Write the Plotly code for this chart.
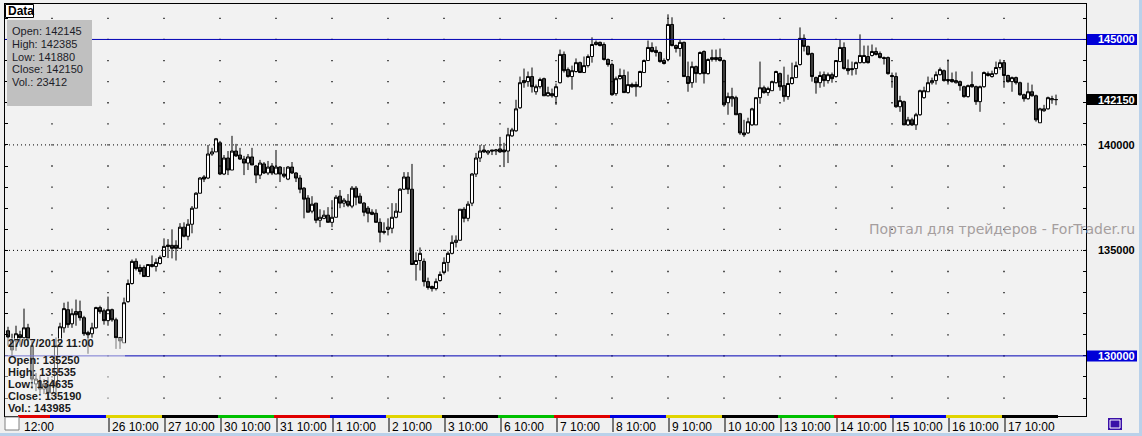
import plotly.graph_objects as go

# ---------------- data (hourly bars) ----------------
opens = [
    131190, 130710, 130710, 131000, 130860, 131330, 130480, 128670, 128810, 128430,
    128620, 128240, 128570, 130620, 131330, 132190, 131520, 132100, 132100, 131810,
    131100, 131050, 131330, 132290, 132140, 131670, 132190, 131710, 130860, 130620,
    132570, 133430, 134480, 134190, 134190, 133760, 134330, 134240, 134380, 134710,
    135250, 135240, 135240, 135100, 136100, 135670, 136240, 137000, 137710, 138480,
    138430, 139570, 139670, 140100, 138620, 139380, 138810, 139710, 139520, 139330,
    139140, 139430, 139000, 138570, 139100, 138670, 139000, 138620, 138950, 138620,
    138380, 138950, 138670, 138430, 137950, 137480, 136860, 137240, 136430, 136520,
    136670, 136330, 136570, 137570, 137240, 137330, 137100, 137950, 137570, 137240,
    137000, 136810, 136760, 136330, 135900, 136000, 136050, 136570, 136810, 137900,
    138480, 137900, 134330, 134520, 134480, 133520, 133290, 133190, 133570, 133950,
    134430, 134860, 135380, 135480, 136950, 136520, 137240, 138620, 139380, 139760,
    139620, 139760, 139710, 139810, 139760, 139710, 140430, 140670, 141760, 143050,
    143000, 143240, 142520, 142760, 143140, 142330, 142430, 142290, 142950, 144290,
    143570, 143240, 143480, 143900, 143430, 143760, 144190, 144760, 144860, 144760,
    144050, 143810, 142430, 143140, 143290, 142480, 142860, 142860, 142760, 143430,
    144000, 144620, 144480, 144380, 144000, 144050, 145710, 144710, 144570, 144860,
    143240, 142950, 143710, 143380, 144430, 143380, 144050, 144140, 144140, 144000,
    142000, 142190, 142240, 141480, 140570, 140570, 140950, 140950, 142240, 142710,
    142480, 142570, 142950, 143380, 142810, 142290, 142910, 143190, 143810, 145050,
    144670, 144330, 143190, 142950, 143330, 143050, 143330, 143240, 143950, 144620,
    143620, 143620, 143620, 143900, 143900, 144190, 144240, 144430, 144330, 144140,
    144140, 143290, 143240, 141810, 142050, 140950, 141190, 140950, 141430, 142240,
    142520, 142950, 143050, 143330, 143520, 143100, 143100, 142950, 143000, 142760,
    142290, 142860, 142760, 142050, 142760, 143290, 143240, 143380, 143670, 143900,
    143290, 143000, 143190, 142950, 142380, 142190, 142520, 142330, 141050, 141620,
    141710, 142140, 142145,
]
highs = [
    131380, 131050, 131430, 131190, 132240, 131520, 130710, 129190, 129050, 128900,
    129000, 128900, 130860, 131570, 132520, 132570, 132240, 132670, 132620, 131900,
    131190, 131570, 132330, 132380, 132240, 132810, 132240, 131810, 130900, 132760,
    133620, 134570, 134620, 134330, 134290, 134330, 134760, 134620, 134760, 135570,
    135535, 136000, 135480, 136290, 136330, 136480, 137100, 137760, 138480, 138570,
    140000, 139860, 140330, 140190, 139520, 139710, 140430, 140050, 139860, 139480,
    139570, 139860, 139050, 139290, 139190, 139240, 139140, 139760, 139000, 138950,
    139000, 139190, 138710, 138570, 138000, 137620, 137570, 137240, 136950, 136900,
    137050, 137380, 137620, 137860, 137480, 137670, 138050, 138050, 137710, 137290,
    137100, 136950, 136950, 136520, 136330, 136520, 137240, 137240, 137950, 138710,
    138710, 139100, 134910, 135140, 134620, 133710, 133330, 133670, 134000, 134670,
    134950, 135710, 135710, 136950, 137050, 137330, 138670, 139620, 140000, 140000,
    139760, 139760, 139810, 140380, 140100, 140810, 140810, 142140, 143240, 143620,
    143480, 143670, 142860, 143190, 143190, 142760, 142670, 142910, 144520, 144430,
    143670, 143760, 144100, 143950, 144190, 144290, 145100, 144950, 144900, 144860,
    144100, 143900, 143240, 143620, 143570, 143480, 142950, 143000, 143520, 144050,
    144950, 144860, 144670, 144430, 144100, 146190, 146050, 144760, 145000, 144900,
    143950, 143950, 143760, 144430, 144480, 144100, 144520, 144520, 144570, 144050,
    142480, 142710, 142330, 141520, 141190, 141290, 141760, 142240, 143950, 142810,
    142760, 143050, 143520, 143430, 143710, 143330, 143900, 143950, 145570, 145240,
    144710, 144380, 143240, 143480, 143480, 143430, 143430, 144000, 145000, 144860,
    144050, 143950, 143950, 145240, 144710, 144710, 144760, 144620, 144430, 144190,
    144190, 143430, 143430, 142330, 142100, 141330, 141290, 141520, 142620, 142760,
    143240, 143190, 143480, 143670, 143570, 144050, 143430, 143480, 143050, 142810,
    142860, 143480, 142810, 142810, 143480, 143480, 143520, 143950, 144050, 144000,
    143330, 143240, 143240, 143000, 142430, 142950, 142860, 142380, 141760, 141900,
    142290, 142330, 142385,
]
lows = [
    130480, 130000, 130240, 130480, 130710, 130480, 128430, 128330, 128190, 128190,
    128000, 128100, 127950, 130480, 131100, 131330, 131330, 131430, 131670, 130950,
    130100, 130860, 131290, 132000, 131480, 131430, 131620, 130330, 130330, 130620,
    132520, 133380, 134050, 133860, 133760, 133760, 134190, 134000, 134330, 134670,
    134635, 134620, 134520, 135100, 135620, 135480, 135810, 137000, 137710, 138240,
    138380, 139480, 139670, 138570, 138570, 138570, 138810, 139430, 139290, 138570,
    138810, 139050, 138190, 138380, 138620, 138570, 138570, 138620, 138240, 138430,
    138330, 138620, 138240, 137710, 136520, 136810, 136760, 136290, 136100, 136480,
    136330, 136100, 136570, 137000, 137050, 137050, 137000, 137140, 137240, 136620,
    136330, 136670, 136330, 135380, 135760, 135710, 135810, 136520, 136810, 137860,
    137670, 134330, 133570, 134050, 133290, 133140, 133050, 133100, 133520, 133860,
    134000, 134810, 135140, 135480, 136330, 136380, 137100, 138480, 139190, 139620,
    139520, 139520, 139520, 139620, 138950, 139140, 140380, 140620, 141710, 142710,
    142760, 142480, 142380, 142670, 142330, 142290, 142240, 141900, 142910, 143430,
    143190, 142620, 143430, 143430, 143430, 143670, 143900, 144710, 144670, 144000,
    143710, 142330, 142330, 143100, 142480, 142430, 142710, 142290, 142710, 143430,
    144000, 144380, 144190, 143900, 143810, 144000, 144670, 144380, 144190, 143240,
    142520, 142710, 142950, 143330, 142910, 143330, 143950, 143950, 143950, 141810,
    141430, 141810, 141430, 140480, 140380, 140520, 140900, 140950, 141950, 142430,
    142330, 142570, 142910, 142570, 142050, 142140, 142860, 143190, 143760, 144430,
    144240, 143000, 142430, 142710, 142760, 142910, 142950, 143190, 143950, 143570,
    143330, 143290, 143330, 143860, 143860, 143860, 144190, 144240, 144100, 143810,
    143330, 142710, 141760, 141570, 140950, 140900, 140900, 140710, 141380, 142190,
    142520, 142860, 142860, 143290, 143000, 142860, 142950, 142910, 142570, 142240,
    142240, 142710, 141900, 141570, 142710, 143240, 143190, 143330, 143570, 142710,
    142950, 142520, 142860, 142330, 142050, 142140, 142290, 141100, 141050, 141570,
    141670, 141950, 141880,
]
closes = [
    130900, 130280, 131050, 130860, 131330, 130810, 128900, 128900, 128430, 128670,
    128240, 128710, 130480, 131380, 132240, 131480, 132000, 131950, 131810, 131050,
    131000, 131330, 132290, 132100, 131670, 132190, 131710, 130860, 130710, 132520,
    133430, 134480, 134140, 134000, 133760, 134330, 134240, 134430, 134670, 135190,
    135190, 135100, 135100, 136100, 135670, 136240, 137000, 137710, 138430, 138380,
    139570, 139670, 140290, 138620, 139380, 138810, 139710, 139480, 139330, 139140,
    139430, 139050, 138570, 139140, 138670, 138950, 138670, 138950, 138620, 138520,
    138950, 138670, 138430, 137900, 137430, 136810, 137190, 136430, 136570, 136670,
    136330, 136570, 137520, 137240, 137380, 137140, 137950, 137520, 137240, 136810,
    136760, 136710, 136330, 135860, 135860, 136100, 136570, 136860, 137900, 138480,
    137900, 134330, 134520, 134860, 133520, 133240, 133190, 133520, 133860, 134430,
    134860, 135380, 135480, 136950, 136520, 137190, 138620, 139380, 139710, 139670,
    139710, 139710, 139760, 139670, 139670, 140480, 140710, 141710, 142950, 142950,
    143240, 142760, 142760, 143100, 142330, 142480, 142330, 142760, 144290, 143520,
    143240, 143520, 143900, 143430, 143760, 144190, 144760, 144860, 144710, 144050,
    143810, 142380, 143140, 143290, 142480, 142860, 142760, 142760, 143480, 144000,
    144620, 144430, 144380, 143950, 143860, 145710, 144710, 144570, 144860, 143240,
    142910, 143710, 143380, 144380, 143380, 144050, 144140, 144050, 144000, 141900,
    142290, 142290, 141430, 140570, 140480, 141100, 141710, 142240, 142710, 142480,
    142670, 143000, 143480, 142760, 142290, 142910, 143190, 143760, 145050, 144670,
    144290, 143240, 142950, 143290, 143050, 143330, 143140, 144000, 144620, 143620,
    143520, 143570, 143900, 144240, 144240, 143900, 144430, 144290, 144140, 144100,
    143380, 143240, 141810, 142100, 140950, 141190, 140950, 141430, 142570, 142570,
    142950, 143050, 143330, 143570, 143050, 143050, 143000, 143050, 142810, 142290,
    142810, 142760, 142050, 142760, 143430, 143380, 143380, 143670, 143900, 143290,
    143000, 143190, 142950, 142380, 142190, 142520, 142330, 141190, 141710, 141710,
    142240, 142190, 142150,
]

first_label = "12:00"
day_labels = ["26 10:00", "27 10:00", "30 10:00", "31 10:00", "1 10:00", "2 10:00",
              "3 10:00", "6 10:00", "7 10:00", "8 10:00", "9 10:00", "10 10:00",
              "13 10:00", "14 10:00", "15 10:00", "16 10:00", "17 10:00"]
day_weekdays = ["Thu", "Fri", "Mon", "Tue", "Wed", "Thu", "Fri", "Mon", "Tue", "Wed",
                "Thu", "Fri", "Mon", "Tue", "Wed", "Thu", "Fri"]
bars_per_day = 14
first_day_bar = 25          # bar index of "26 10:00"
blue_levels = [145000, 130000]
dotted_levels = [140000, 135000]
axis_labels = [140000, 135000]
last_price = 142150

info_top = ["Open: 142145", "High: 142385", "Low: 141880", "Close: 142150", "Vol.: 23412"]
info_bottom_title = "27/07/2012 11:00"
info_bottom = ["Open: 135250", "High: 135535", "Low: 134635", "Close: 135190", "Vol.: 143985"]
watermark = "Портал для трейдеров - ForTrader.ru"

# ---------------- geometry helpers (pixel -> paper) ----------------
W, H = 1142, 436
L, R, T, B = 5, 1086, 4, 416
def px(x):
    return (x - L) / (R - L)
def py(y):
    return (B - y) / (B - T)

FONT = "Liberation Sans, Arial, sans-serif"
WFONT = "DejaVu Sans, Verdana, sans-serif"
n = len(closes)
xs = list(range(n))
day_starts = [first_day_bar + k * bars_per_day for k in range(len(day_labels))]
ymin, ymax = 127150, 146680

fig = go.Figure()

# dotted grid lattice (day columns x 1000-point rows)
grid_cols = [first_day_bar - bars_per_day] + day_starts
grid_x, grid_y = [], []
for lev in range(128000, 147000, 1000):
    for c in grid_cols:
        grid_x.append(c)
        grid_y.append(lev)
fig.add_trace(go.Scatter(x=grid_x, y=grid_y, mode="markers",
                         marker=dict(symbol="square", size=1.3, color="black", line=dict(width=0)),
                         hoverinfo="skip", showlegend=False))

fig.add_trace(go.Candlestick(
    x=xs, open=opens, high=highs, low=lows, close=closes,
    increasing=dict(line=dict(color="black", width=1), fillcolor="white"),
    decreasing=dict(line=dict(color="black", width=1), fillcolor="#3c3c3c"),
    whiskerwidth=0, hoverinfo="skip", showlegend=False))

shapes = []
for lev in dotted_levels:
    shapes.append(dict(type="line", xref="paper", x0=0, x1=1, yref="y", y0=lev, y1=lev,
                       line=dict(color="black", width=1, dash="1px,3px"), layer="below"))
for lev in blue_levels:
    shapes.append(dict(type="line", xref="paper", x0=0, x1=1, yref="y", y0=lev, y1=lev,
                       line=dict(color="#0000b4", width=1), layer="above"))

# weekday colour strip along the bottom edge
wcol = {"Mon": "#00c000", "Tue": "#e00000", "Wed": "#0000e0", "Thu": "#e0d400", "Fri": "#000000"}
strip = [(2.5, first_day_bar - bars_per_day - 0.5, "Tue"),
         (first_day_bar - bars_per_day - 0.5, first_day_bar - 0.5, "Wed")]
for k, d in enumerate(day_starts):
    strip.append((d - 0.5, min(d + bars_per_day, n) - 0.5, day_weekdays[k]))
for a, b, wd in strip:
    shapes.append(dict(type="rect", xref="x", x0=a, x1=b, yref="paper", y0=py(418), y1=py(415),
                       fillcolor=wcol[wd], line=dict(width=0), layer="above"))

# time axis separators
for d in day_starts:
    shapes.append(dict(type="line", xref="x", x0=d + 0.25, x1=d + 0.25, yref="paper",
                       y0=py(418), y1=py(432), line=dict(color="black", width=1), layer="above"))

# translucent info panel (bottom-left)
shapes.append(dict(type="rect", xref="paper", x0=px(5), x1=px(125), yref="paper", y0=py(413), y1=py(338),
                   fillcolor="rgba(242,242,242,0.5)", line=dict(width=0), layer="above"))
# grey info box (top-left)
shapes.append(dict(type="rect", xref="paper", x0=px(7), x1=px(92), yref="paper", y0=py(106), y1=py(20),
                   fillcolor="#c0c0c0", line=dict(width=0), layer="above"))
# Data tab
shapes.append(dict(type="rect", xref="paper", x0=px(5.5), x1=px(33.5), yref="paper", y0=py(17.5), y1=py(4.5),
                   fillcolor="white", line=dict(color="black", width=1), layer="above"))
# price boxes on the right axis
def price_box(price, color):
    h = 5.5 * (ymax - ymin) / (B - T)
    shapes.append(dict(type="rect", xref="paper", x0=px(1087), x1=px(1137), yref="y",
                       y0=price - h, y1=price + h, fillcolor=color, line=dict(width=0)))
for lev in blue_levels:
    price_box(lev, "#0000d8")
price_box(last_price, "#000000")
# small corner widgets
shapes.append(dict(type="rect", xref="paper", x0=px(5), x1=px(19), yref="paper", y0=py(430), y1=py(417),
                   fillcolor="white", line=dict(color="#808080", width=1)))
shapes.append(dict(type="rect", xref="paper", x0=px(1108), x1=px(1122), yref="paper", y0=py(430), y1=py(418),
                   fillcolor="#3a10a8", line=dict(width=0)))
shapes.append(dict(type="rect", xref="paper", x0=px(1110), x1=px(1120), yref="paper", y0=py(428), y1=py(420),
                   fillcolor="rgba(0,0,0,0)", line=dict(color="white", width=1)))
# window border strips
shapes.append(dict(type="rect", xref="paper", x0=px(0), x1=px(1142), yref="paper", y0=py(436), y1=py(433),
                   fillcolor="#b9d1ea", line=dict(width=0)))
shapes.append(dict(type="rect", xref="paper", x0=px(1139), x1=px(1142), yref="paper", y0=py(436), y1=py(0),
                   fillcolor="#b9d1ea", line=dict(width=0)))

ann = []
# right axis labels
for lev in axis_labels:
    ann.append(dict(xref="paper", x=px(1137), xanchor="right", yref="y", y=lev, yanchor="middle",
                    text=f"{lev}", showarrow=False, font=dict(family=FONT, size=11, color="black", weight="bold")))
for lev in blue_levels + [last_price]:
    ann.append(dict(xref="paper", x=px(1137), xanchor="right", yref="y", y=lev, yanchor="middle",
                    text=f"{lev}", showarrow=False, font=dict(family=FONT, size=11, color="white", weight="bold")))
# time labels
ann.append(dict(xref="x", x=3.25, xanchor="left", xshift=1, yref="paper", y=py(418), yanchor="top",
                text=first_label, showarrow=False, font=dict(family=FONT, size=12, color="black")))
for d, lab in zip(day_starts, day_labels):
    ann.append(dict(xref="x", x=d + 0.25, xanchor="left", xshift=1, yref="paper", y=py(418), yanchor="top",
                    text=lab, showarrow=False, font=dict(family=FONT, size=12, color="black")))
# watermark
ann.append(dict(xref="paper", x=px(1137), xanchor="right", yref="paper", y=py(229), yanchor="middle",
                text=watermark, showarrow=False, font=dict(family=WFONT, size=14, color="#a59e9e")))
# Data tab text
ann.append(dict(xref="paper", x=px(6), xanchor="left", yref="paper", y=py(11), yanchor="middle",
                text="Data", showarrow=False, font=dict(family=FONT, size=12, color="black", weight="bold")))
# top info box
for k, t in enumerate(info_top):
    ann.append(dict(xref="paper", x=px(10), xanchor="left", yref="paper", y=py(31 + 12.75 * k), yanchor="middle",
                    text=t, showarrow=False, font=dict(family=FONT, size=11, color="#1c1c28")))
# bottom info panel
ann.append(dict(xref="paper", x=px(6), xanchor="left", yref="paper", y=py(343), yanchor="middle",
                text=info_bottom_title, showarrow=False, font=dict(family=FONT, size=11, color="#1a1a1a", weight="bold")))
for k, t in enumerate(info_bottom):
    ann.append(dict(xref="paper", x=px(6), xanchor="left", yref="paper", y=py(360 + 12 * k), yanchor="middle",
                    text=t, showarrow=False, font=dict(family=FONT, size=11, color="#1a1a1a", weight="bold")))

fig.update_layout(
    width=W, height=H,
    margin=dict(l=L, r=W - R, t=T, b=H - B, pad=0),
    paper_bgcolor="#f0f0f0", plot_bgcolor="#f2f2f2",
    showlegend=False, boxgap=0.15, boxgroupgap=0.1,
    shapes=shapes, annotations=ann,
    xaxis=dict(range=[-0.75, 269.5], showticklabels=False, showgrid=False, zeroline=False,
               showline=True, mirror=True, linecolor="black", linewidth=1, ticks="",
               rangeslider=dict(visible=False), fixedrange=True),
    yaxis=dict(range=[ymin, ymax], side="right", showgrid=False, zeroline=False,
               showline=True, mirror="ticks", linecolor="black", linewidth=1,
               ticks="inside", ticklen=3, tickcolor="black", tickwidth=1,
               tick0=0, dtick=1000, showticklabels=False, fixedrange=True),
)

fig.write_html("out.html", config={"displayModeBar": False, "staticPlot": True},
               post_script="document.body.style.margin='0';document.body.style.background='#f0f0f0';")
